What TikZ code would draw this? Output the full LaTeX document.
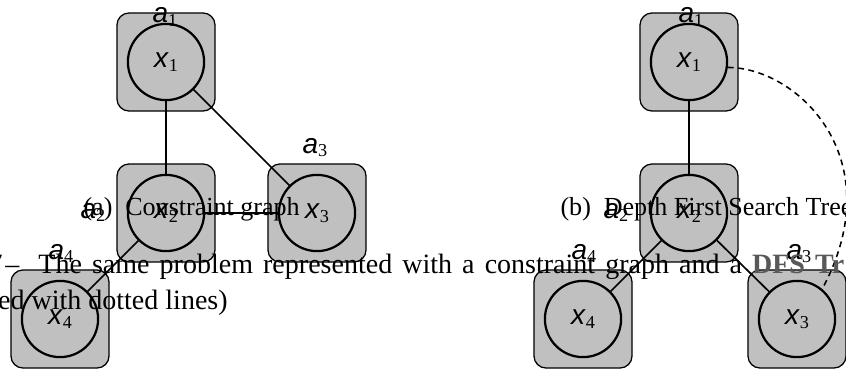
\documentclass[tikz,border=0pt]{standalone}
\usepackage{fontspec}
\setmainfont{Liberation Serif}
\setsansfont{Liberation Sans}
\definecolor{agentgray}{HTML}{C0C0C0}
\newcommand{\vsub}[2]{\textsf{\textit{#1}}\raisebox{-1.4pt}{\fontsize{6.5}{6.5}\selectfont\rmfamily #2}}

\begin{document}
\begin{tikzpicture}[x=0.357pt, y=-0.357pt,
  agent/.style={draw, fill=agentgray, rounded corners=4.3pt, minimum size=35pt, inner sep=0pt, line width=0.45pt},
  var/.style={draw, circle, fill=agentgray, minimum size=27.2pt, inner sep=0pt, line width=0.8pt, font=\fontsize{10}{12}\selectfont},
  lab/.style={anchor=base west, inner sep=0pt, font=\fontsize{10}{12}\selectfont},
  link/.style={line width=0.6pt},
  back/.style={line width=0.55pt, dash pattern=on 2.1pt off 1.6pt},
  capt/.style={anchor=base west, inner sep=0pt, font=\fontsize{10}{12}\selectfont},
  subcapt/.style={anchor=base west, inner sep=0pt, font=\fontsize{9.3}{11}\selectfont}]
\useasboundingbox (0,0) rectangle (846,371);
\fill[white] (0,0) rectangle (846,371);

% (a) constraint graph
\node[agent] (ga1) at (166,62) {};
\node[agent] (ga2) at (166,213) {};
\node[agent] (ga3) at (317,213) {};
\node[agent] (ga4) at (60,319) {};
\node[var] (gx1) at (166,62) {\vsub{x}{1}};
\node[var] (gx2) at (166,213) {\vsub{x}{2}};
\node[var] (gx3) at (317,213) {\vsub{x}{3}};
\node[var] (gx4) at (60,319) {\vsub{x}{4}};
\node[lab] (gl1) at (152,23) {\vsub{a}{1}};
\node[lab] (gl2) at (80,218) {\vsub{a}{2}};
\node[lab] (gl3) at (302,153) {\vsub{a}{3}};
\node[lab] (gl4) at (48,259) {\vsub{a}{4}};

\draw[link] (gx1) -- (gx2);
\draw[link] (gx1) -- (gx3);
\draw[link] (gx2) -- (gx3);
\draw[link] (gx2) -- (gx4);

% (b) DFS tree
\node[agent] (ta1) at (689,62) {};
\node[agent] (ta2) at (689,213) {};
\node[agent] (ta3) at (797,319) {};
\node[agent] (ta4) at (583,319) {};
\node[var] (tx1) at (689,62) {\vsub{x}{1}};
\node[var] (tx2) at (689,213) {\vsub{x}{2}};
\node[var] (tx3) at (797,319) {\vsub{x}{3}};
\node[var] (tx4) at (583,319) {\vsub{x}{4}};
\node[lab] (tl1) at (678,23) {\vsub{a}{1}};
\node[lab] (tl2) at (603,218) {\vsub{a}{2}};
\node[lab] (tl3) at (786,259) {\vsub{a}{3}};
\node[lab] (tl4) at (571,259) {\vsub{a}{4}};

\draw[link] (tx1) -- (tx2);
\draw[link] (tx2) -- (tx4);
\draw[link] (tx2) -- (tx3);
\draw[back] (tx1.-8) .. controls +(70,0) and +(70,-130) .. (tx3.50);

% captions
\node[subcapt] (capa) at (83,215) {(a)\hspace{4.6pt}Constraint graph};
\node[subcapt] (capb) at (560,215) {(b)\hspace{4.6pt}Depth First Search Tree};
\node[capt] (fig1) at (-12,273.5) {\spaceskip=3.6pt 7\hspace{1pt}–\hspace{6.8pt}The same problem represented with a constraint graph and a \textcolor{black!65}{\textbf{DFS Tr}}};
\node[capt] (fig2) at (-2.4,309.5) {ed with dotted lines)};
\end{tikzpicture}
\end{document}
